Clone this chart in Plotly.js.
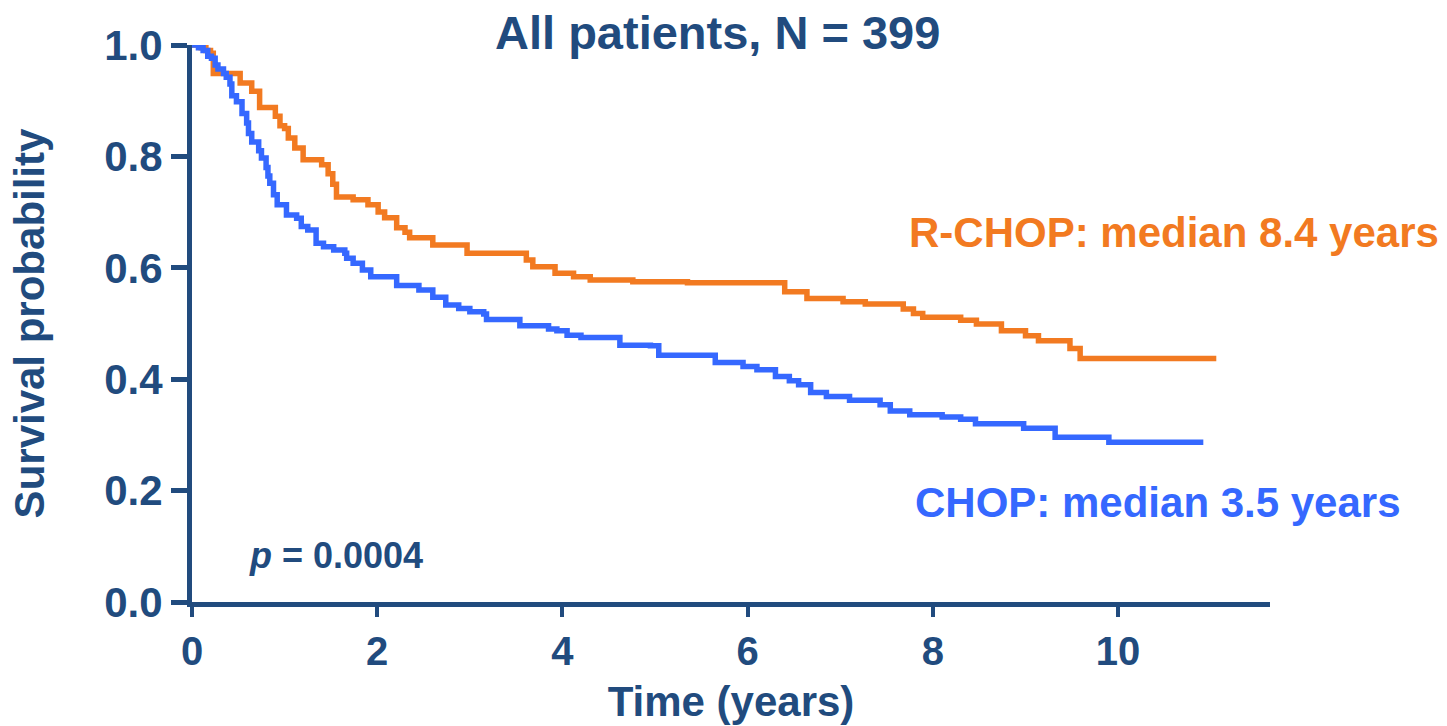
<!DOCTYPE html>
<html>
<head>
<meta charset="utf-8">
<script src="https://cdn.plot.ly/plotly-3.0.1.min.js"></script>
<style>
  html, body { margin: 0; padding: 0; background: #ffffff; }
  #chart { width: 1447px; height: 726px; }
</style>
</head>
<body>
<div id="chart"></div>
<script>
// Kaplan-Meier step points: time (years) of each step and survival after it
const rchopTime = [0, 0.10, 0.15, 0.20, 0.23, 0.52, 0.645, 0.73, 0.90, 0.95, 1.00, 1.04, 1.11, 1.20, 1.40, 1.47, 1.52, 1.56, 1.74, 1.90, 2.01, 2.08, 2.21, 2.30, 2.35, 2.60, 2.97, 3.61, 3.68, 3.92, 4.12, 4.30, 4.76, 5.35, 6.40, 6.64, 7.03, 7.27, 7.68, 7.79, 7.89, 8.30, 8.47, 8.74, 9.00, 9.14, 9.48, 9.59, 11.06];
const rchopSurv = [1.0, 0.995, 0.99, 0.985, 0.949, 0.932, 0.917, 0.888, 0.872, 0.855, 0.850, 0.833, 0.815, 0.794, 0.785, 0.769, 0.750, 0.727, 0.722, 0.713, 0.700, 0.690, 0.672, 0.664, 0.654, 0.641, 0.626, 0.614, 0.602, 0.590, 0.584, 0.578, 0.575, 0.573, 0.557, 0.545, 0.539, 0.535, 0.526, 0.518, 0.511, 0.506, 0.499, 0.487, 0.478, 0.469, 0.455, 0.437, 0.437];

const chopTime = [0, 0.07, 0.12, 0.17, 0.21, 0.25, 0.28, 0.34, 0.37, 0.41, 0.43, 0.48, 0.54, 0.59, 0.61, 0.645, 0.72, 0.75, 0.80, 0.82, 0.84, 0.88, 0.92, 1.02, 1.13, 1.18, 1.25, 1.34, 1.42, 1.53, 1.65, 1.67, 1.74, 1.84, 1.93, 2.21, 2.45, 2.60, 2.74, 2.88, 3.00, 3.15, 3.18, 3.54, 3.85, 3.94, 4.05, 4.20, 4.62, 4.95, 5.04, 5.65, 5.95, 6.10, 6.30, 6.45, 6.55, 6.68, 6.85, 7.10, 7.43, 7.54, 7.75, 8.10, 8.30, 8.46, 8.98, 9.32, 9.90, 10.92];
const chopSurv = [1.0, 0.995, 0.99, 0.98, 0.976, 0.964, 0.957, 0.949, 0.942, 0.930, 0.909, 0.898, 0.877, 0.860, 0.841, 0.826, 0.810, 0.797, 0.780, 0.765, 0.752, 0.731, 0.713, 0.695, 0.689, 0.674, 0.668, 0.644, 0.638, 0.632, 0.626, 0.617, 0.608, 0.596, 0.584, 0.568, 0.560, 0.547, 0.533, 0.527, 0.521, 0.517, 0.507, 0.496, 0.490, 0.487, 0.479, 0.475, 0.461, 0.460, 0.443, 0.430, 0.423, 0.417, 0.405, 0.397, 0.390, 0.376, 0.369, 0.362, 0.354, 0.343, 0.336, 0.332, 0.328, 0.320, 0.312, 0.296, 0.287, 0.287];

const xTicks = [0, 2, 4, 6, 8, 10];
const yTicks = [0.0, 0.2, 0.4, 0.6, 0.8, 1.0];
const yTickText = ['0.0', '0.2', '0.4', '0.6', '0.8', '1.0'];

const navy = '#214b7e';
const orange = '#f27a21';
const blue = '#3568ff';
const fontFam = 'Liberation Sans, Arial, sans-serif';

const traces = [
  {
    x: rchopTime, y: rchopSurv, type: 'scatter', mode: 'lines',
    line: { color: orange, width: 5.5, shape: 'hv' }, name: 'R-CHOP'
  },
  {
    x: chopTime, y: chopSurv, type: 'scatter', mode: 'lines',
    line: { color: blue, width: 5.5, shape: 'hv' }, name: 'CHOP'
  }
];

const layout = {
  width: 1447, height: 726,
  margin: { l: 192, r: 177, t: 45, b: 124 },
  paper_bgcolor: '#ffffff', plot_bgcolor: '#ffffff',
  showlegend: false,
  font: { family: fontFam, color: navy },
  title: {
    text: 'All patients, N = 399',
    font: { family: fontFam, size: 47, weight: 700, color: navy },
    x: 0.496, xref: 'container', xanchor: 'center',
    y: 0.955, yref: 'container', yanchor: 'middle'
  },
  xaxis: {
    range: [0, 11.64], fixedrange: true,
    tickvals: xTicks, ticktext: xTicks.map(String),
    ticks: 'outside', ticklen: 10, tickwidth: 4, tickcolor: navy,
    showline: true, linewidth: 5, linecolor: navy,
    showgrid: false, zeroline: false,
    tickfont: { family: fontFam, size: 40, weight: 700, color: navy },
    ticklabelstandoff: 0,
    title: {
      text: 'Time (years)', standoff: 16,
      font: { family: fontFam, size: 42, weight: 700, color: navy }
    }
  },
  yaxis: {
    range: [0, 1.0], fixedrange: true,
    tickvals: yTicks, ticktext: yTickText,
    ticks: 'outside', ticklen: 16, tickwidth: 5, tickcolor: navy,
    showline: true, linewidth: 5, linecolor: navy,
    showgrid: false, zeroline: false,
    tickfont: { family: fontFam, size: 42, weight: 700, color: navy },
    ticklabelstandoff: 0,
    title: {
      text: 'Survival probability', standoff: 48,
      font: { family: fontFam, size: 42, weight: 700, color: navy }
    }
  },
  annotations: [
    {
      x: 7.72, y: 0.664, xref: 'x', yref: 'y', xanchor: 'left', yanchor: 'middle',
      text: 'R-CHOP: median 8.4 years', showarrow: false,
      font: { family: fontFam, size: 42, weight: 700, color: orange }
    },
    {
      x: 7.78, y: 0.178, xref: 'x', yref: 'y', xanchor: 'left', yanchor: 'middle',
      text: 'CHOP: median 3.5 years', showarrow: false,
      font: { family: fontFam, size: 42, weight: 700, color: blue }
    },
    {
      x: 0.59, y: 0.083, xref: 'x', yref: 'y', xanchor: 'left', yanchor: 'middle',
      text: '<i>p</i> = 0.0004', showarrow: false,
      font: { family: fontFam, size: 36, weight: 700, color: navy }
    }
  ]
};

Plotly.newPlot('chart', traces, layout, { displayModeBar: false, staticPlot: true });
</script>
</body>
</html>
